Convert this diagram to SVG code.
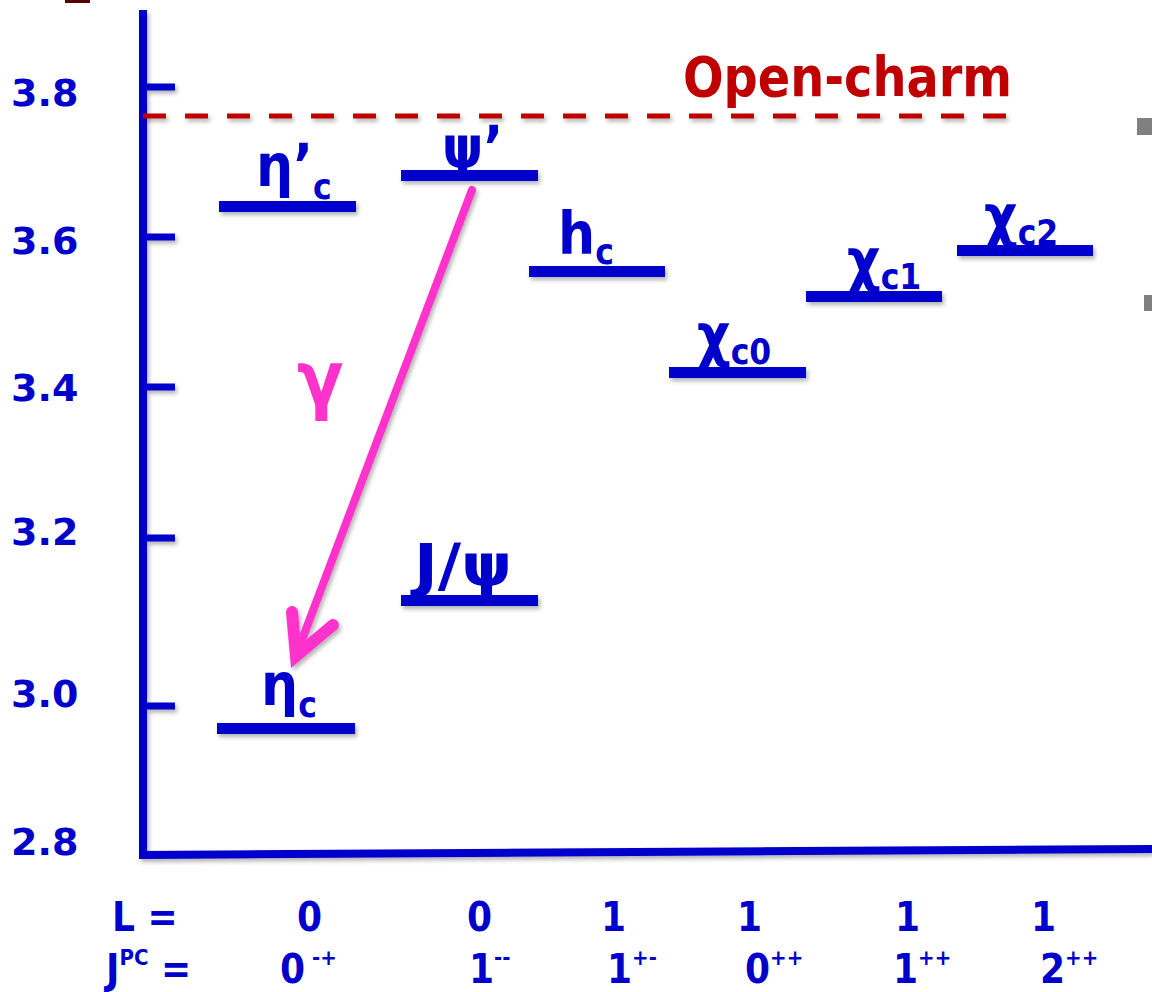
<svg xmlns="http://www.w3.org/2000/svg" width="1152" height="992" viewBox="0 0 1152 992">
<defs>
<filter id="sh" filterUnits="userSpaceOnUse" x="0" y="0" width="1152" height="992">
<feDropShadow dx="2" dy="3" stdDeviation="2" flood-color="#000" flood-opacity="0.3"/>
</filter>
<style>
.ax{stroke:#0000cc;stroke-width:8;fill:none}
.tk{stroke:#0000cc;stroke-width:7}
.lv{fill:#0000cc}
.num{font-family:"DejaVu Sans",Verdana,sans-serif;font-weight:bold;font-size:38px;fill:#0000cc}
.lab{font-family:"DejaVu Sans Condensed","DejaVu Sans",sans-serif;font-weight:bold;fill:#0000cc}
.big{font-size:58px}
.sub{font-size:35px}
.row{font-family:"DejaVu Sans Condensed","DejaVu Sans",sans-serif;font-weight:bold;font-size:40px;fill:#0000cc}
.sup{font-size:22px}
</style>
</defs>
<rect width="1152" height="992" fill="#fff"/>
<rect x="65" y="0" width="25" height="3" fill="#5a0000"/>
<rect x="1137" y="118" width="15" height="17" fill="#808080"/>
<rect x="1144" y="295" width="8" height="16" fill="#808080"/>

<g id="axes" filter="url(#sh)">
<line class="ax" x1="143" y1="10" x2="143" y2="858"/>
<line class="ax" x1="139" y1="855" x2="1152" y2="849"/>
<line class="tk" x1="143" y1="87" x2="175" y2="87"/>
<line class="tk" x1="143" y1="237" x2="175" y2="237"/>
<line class="tk" x1="143" y1="387" x2="175" y2="387"/>
<line class="tk" x1="143" y1="538" x2="175" y2="538"/>
<line class="tk" x1="143" y1="706" x2="175" y2="706"/>
</g>
<g id="axis-labels">
<text class="num" x="11" y="106">3.8</text>
<text class="num" x="11" y="254">3.6</text>
<text class="num" x="11" y="401">3.4</text>
<text class="num" x="11" y="545">3.2</text>
<text class="num" x="11" y="707">3.0</text>
<text class="num" x="11" y="855">2.8</text>
</g>

<g id="open-charm">
<line x1="143" y1="116" x2="1008" y2="116" stroke="#c00000" stroke-width="5" stroke-dasharray="23,19" filter="url(#sh)"/>
<text x="683" y="96" textLength="329" lengthAdjust="spacingAndGlyphs" font-family="DejaVu Sans Condensed, DejaVu Sans, sans-serif" font-weight="bold" font-size="56" fill="#c00000">Open-charm</text>
</g>

<g id="eta-c-prime">
<rect class="lv" x="219" y="201" width="137" height="11" filter="url(#sh)"/>
<text class="lab big" x="256" y="186">η’<tspan class="sub" dy="13">c</tspan></text>
</g>
<g id="psi-prime">
<rect class="lv" x="401" y="170" width="137" height="11" filter="url(#sh)"/>
<text class="lab big" x="442" y="168">ψ’</text>
</g>
<g id="h-c">
<rect class="lv" x="529" y="266" width="136" height="11" filter="url(#sh)"/>
<text class="lab big" x="558" y="254">h<tspan class="sub" dy="10">c</tspan></text>
</g>
<g id="chi-c0">
<rect class="lv" x="669" y="367" width="137" height="11" filter="url(#sh)"/>
<text class="lab big" x="697" y="356">χ<tspan class="sub" dy="8">c0</tspan></text>
</g>
<g id="chi-c1">
<rect class="lv" x="806" y="291" width="136" height="11" filter="url(#sh)"/>
<text class="lab big" x="847" y="281">χ<tspan class="sub" dy="8">c1</tspan></text>
</g>
<g id="chi-c2">
<rect class="lv" x="957" y="245" width="136" height="11" filter="url(#sh)"/>
<text class="lab big" x="984" y="237">χ<tspan class="sub" dy="8">c2</tspan></text>
</g>
<g id="j-psi">
<rect class="lv" x="401" y="595" width="137" height="11" filter="url(#sh)"/>
<text class="lab big" x="414" y="586" textLength="98" lengthAdjust="spacingAndGlyphs">J/ψ</text>
</g>
<g id="eta-c">
<rect class="lv" x="217" y="723" width="138" height="11" filter="url(#sh)"/>
<text class="lab big" x="261" y="705">η<tspan class="sub" dy="12">c</tspan></text>
</g>

<g id="connectors" filter="url(#sh)">
<line x1="472" y1="190" x2="300" y2="645" stroke="#ff33cc" stroke-width="8" stroke-linecap="round"/>
<polyline points="292,612 296,656 333,625" fill="none" stroke="#ff33cc" stroke-width="12" stroke-linecap="round" stroke-linejoin="miter"/>
</g>
<text x="297" y="405" font-family="DejaVu Sans Condensed, DejaVu Sans, sans-serif" font-weight="bold" font-size="76" fill="#ff33cc">γ</text>

<g id="quantum-numbers">
<text class="row" x="112" y="931">L =</text>
<text class="row" x="297" y="931">0</text>
<text class="row" x="467" y="931">0</text>
<text class="row" x="601" y="931">1</text>
<text class="row" x="737" y="931">1</text>
<text class="row" x="895" y="931">1</text>
<text class="row" x="1031" y="931">1</text>
<text class="row" x="106" y="983">J<tspan class="sup" dy="-18">PC</tspan><tspan dy="18"> =</tspan></text>
<text class="row" x="280" y="983">0<tspan class="sup" dy="-18"> -+</tspan></text>
<text class="row" x="469" y="983">1<tspan class="sup" dy="-18">--</tspan></text>
<text class="row" x="607" y="983">1<tspan class="sup" dy="-18">+-</tspan></text>
<text class="row" x="745" y="983">0<tspan class="sup" dy="-18">++</tspan></text>
<text class="row" x="893" y="983">1<tspan class="sup" dy="-18">++</tspan></text>
<text class="row" x="1040" y="983">2<tspan class="sup" dy="-18">++</tspan></text>
</g>
</svg>
